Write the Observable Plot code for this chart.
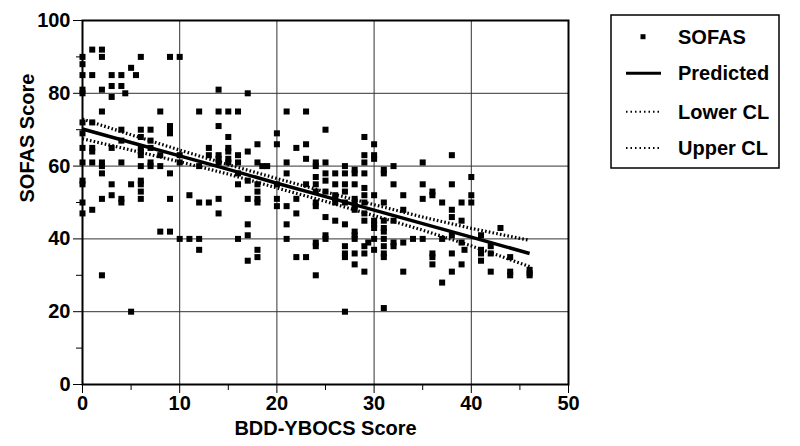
<!DOCTYPE html>
<html>
<head>
<meta charset="utf-8">
<script src="https://cdn.jsdelivr.net/npm/d3@7"></script>
<script src="https://cdn.jsdelivr.net/npm/@observablehq/plot@0.6"></script>
<style>
  html, body { margin: 0; padding: 0; background: #fff; }
  #wrap { position: relative; width: 800px; height: 446px; }
  #wrap svg text { font-weight: bold; }
  #legend { position: absolute; left: 0; top: 0; pointer-events: none; }
</style>
</head>
<body>
<div id="wrap"></div>
<script>
// ---- data ----
const bddScore = [0, 1, 2, 3, 4, 4.4, 5, 5.5, 6, 7, 8, 9, 10, 11, 12, 13, 14, 15, 16, 17, 18, 18.5, 19, 20,
  21, 22, 23, 24, 25, 26, 27, 28, 29, 29.4, 30, 31, 32, 33, 34, 35, 36, 37, 38, 39, 39.3, 40, 41, 42, 43, 44, 46];
const sofasScore = [
  [90, 88, 85, 81, 80, 72, 69, 65, 61, 56, 55, 50, 47],
  [92, 85, 72, 65, 64, 61, 48],
  [92, 90, 81, 75, 61, 60, 58, 51, 30],
  [85, 82, 79, 65, 55, 52],
  [85, 82, 70, 67, 61, 51, 50],
  [80],
  [87, 55, 20],
  [85],
  [90, 70, 68, 65, 64, 63, 60, 56, 55, 53, 51],
  [70, 67, 65, 61, 60],
  [75, 63, 60, 42],
  [90, 71, 70, 69, 58, 51, 42],
  [90, 63, 61, 40],
  [52, 40],
  [75, 60, 50, 40, 37],
  [65, 63, 50],
  [81, 75, 71, 63, 62, 61, 51, 47],
  [75, 68, 65, 64, 62, 61],
  [75, 63, 61, 58, 55, 40],
  [80, 64, 56, 51, 44, 41, 34],
  [66, 61, 55, 53, 51, 50, 37, 35],
  [60],
  [60],
  [69, 66, 55, 51, 49],
  [75, 61, 58, 49, 44, 40],
  [65, 51, 47, 35],
  [75, 66, 62, 55, 35],
  [61, 60, 57, 55, 53, 50, 49, 39, 38, 30],
  [70, 61, 58, 56, 53, 46, 41, 40],
  [58, 55, 52, 51, 50, 45],
  [60, 58, 55, 53, 50, 44, 38, 36, 35, 20],
  [59, 58, 55, 51, 50, 49, 48, 42, 41, 40, 36, 33],
  [68, 63, 61, 58, 54, 52, 50, 47, 45, 38, 36, 31],
  [39],
  [66, 63, 62, 52, 45, 44, 43, 40, 37],
  [59, 58, 50, 45, 43, 42, 40, 38, 36, 35, 21],
  [60, 55, 45, 39, 38],
  [52, 48, 39, 31],
  [40],
  [61, 55, 51, 40],
  [53, 52, 36, 35, 33],
  [50, 40, 28],
  [63, 55, 48, 46, 41, 36, 31],
  [50, 45, 39, 33],
  [37],
  [57, 52, 50],
  [41, 37, 36, 34],
  [38, 36, 31],
  [43],
  [35, 31, 30],
  [31.5, 30.6, 30]
];
const fitX      = [0,    5,    10,   15,   20,   25,   30,   35,   40,   46];
const predicted = [70.2, 66.5, 62.8, 59.1, 55.3, 51.6, 47.9, 44.2, 40.5, 36.0];
const upperCL   = [72.9, 68.6, 64.4, 60.4, 56.6, 52.9, 49.4, 46.0, 42.9, 39.6];
const lowerCL   = [67.5, 64.4, 61.2, 57.8, 54.0, 50.3, 46.4, 42.4, 38.1, 32.4];
const xTicks = [0, 10, 20, 30, 40, 50];
const xMinor = [5, 15, 25, 35, 45];
const yTicks = [0, 20, 40, 60, 80, 100];
const yMinor = [10, 30, 50, 70, 90];
const xLabel = "BDD-YBOCS Score";
const yLabel = "SOFAS Score";
const legendItems = ["SOFAS", "Predicted", "Lower CL", "Upper CL"];

// ---- tables built from the arrays ----
const points = bddScore.flatMap((b, i) => sofasScore[i].map(s => ({bdd: b, sofas: s})));
const fit = fitX.map((x, i) => ({x, pred: predicted[i], lo: lowerCL[i], hi: upperCL[i]}));

const chart = Plot.plot({
  width: 800,
  height: 446,
  marginLeft: 82,
  marginRight: 232,
  marginTop: 20,
  marginBottom: 62,
  style: {fontFamily: "'Liberation Sans', Arial, Helvetica, sans-serif", fontSize: "20px", color: "#000", background: "#fff"},
  x: {domain: [0, 50]},
  y: {domain: [0, 100]},
  marks: [
    Plot.gridX([10, 20, 30, 40], {stroke: "#333", strokeOpacity: 1, strokeWidth: 1}),
    Plot.gridY([20, 40, 60, 80], {stroke: "#333", strokeOpacity: 1, strokeWidth: 1}),
    Plot.axisX(xMinor, {tickSize: 6, tickFormat: () => "", label: null, stroke: "#000"}),
    Plot.axisY(yMinor, {tickSize: 6, tickFormat: () => "", label: null, stroke: "#000"}),
    Plot.axisX(xTicks, {tickSize: 9, tickPadding: 2, label: null, stroke: "#000", fill: "#000"}),
    Plot.axisY(yTicks, {tickSize: 9, tickPadding: 3, label: null, stroke: "#000", fill: "#000"}),
    Plot.dot(points, {x: "bdd", y: "sofas", symbol: "square", r: 3.4, fill: "#000", stroke: null}),
    Plot.line(fit, {x: "x", y: "lo", stroke: "#000", strokeWidth: 3.2, strokeLinecap: "butt", strokeDasharray: "1.6,2.2"}),
    Plot.line(fit, {x: "x", y: "hi", stroke: "#000", strokeWidth: 3.2, strokeLinecap: "butt", strokeDasharray: "1.6,2.2"}),
    Plot.line(fit, {x: "x", y: "pred", stroke: "#000", strokeWidth: 3.5, strokeLinecap: "butt"}),
    Plot.frame({stroke: "#000", strokeWidth: 2}),
    Plot.text([xLabel], {frameAnchor: "bottom", dy: 50, text: d => d, fill: "#000", fontSize: 20, fontWeight: "bold"}),
    Plot.text([yLabel], {frameAnchor: "left", dx: -55, rotate: -90, text: d => d, fill: "#000", fontSize: 20, fontWeight: "bold"})
  ]
});
document.getElementById("wrap").appendChild(chart);

// ---- legend ----
const lg = d3.select("#wrap").append("svg")
  .attr("id", "legend").attr("width", 800).attr("height", 446);
lg.append("rect").attr("x", 611).attr("y", 15).attr("width", 168).attr("height", 153)
  .attr("fill", "none").attr("stroke", "#000").attr("stroke-width", 1.5);
const rowsY = [36.7, 73.3, 111.7, 148];
lg.append("rect").attr("x", 640.5).attr("y", rowsY[0] - 2.5).attr("width", 5).attr("height", 5).attr("fill", "#000");
lg.append("line").attr("x1", 626).attr("x2", 661).attr("y1", rowsY[1]).attr("y2", rowsY[1])
  .attr("stroke", "#000").attr("stroke-width", 3);
[2, 3].forEach(i => lg.append("line").attr("x1", 626).attr("x2", 661).attr("y1", rowsY[i]).attr("y2", rowsY[i])
  .attr("stroke", "#000").attr("stroke-width", 2).attr("stroke-dasharray", "1.5,3"));
legendItems.forEach((t, i) => lg.append("text").attr("x", 678).attr("y", rowsY[i] + 7)
  .attr("font-family", "'Liberation Sans', Arial, Helvetica, sans-serif").attr("font-size", 20)
  .attr("font-weight", "bold").attr("fill", "#000").text(t));
</script>
</body>
</html>
